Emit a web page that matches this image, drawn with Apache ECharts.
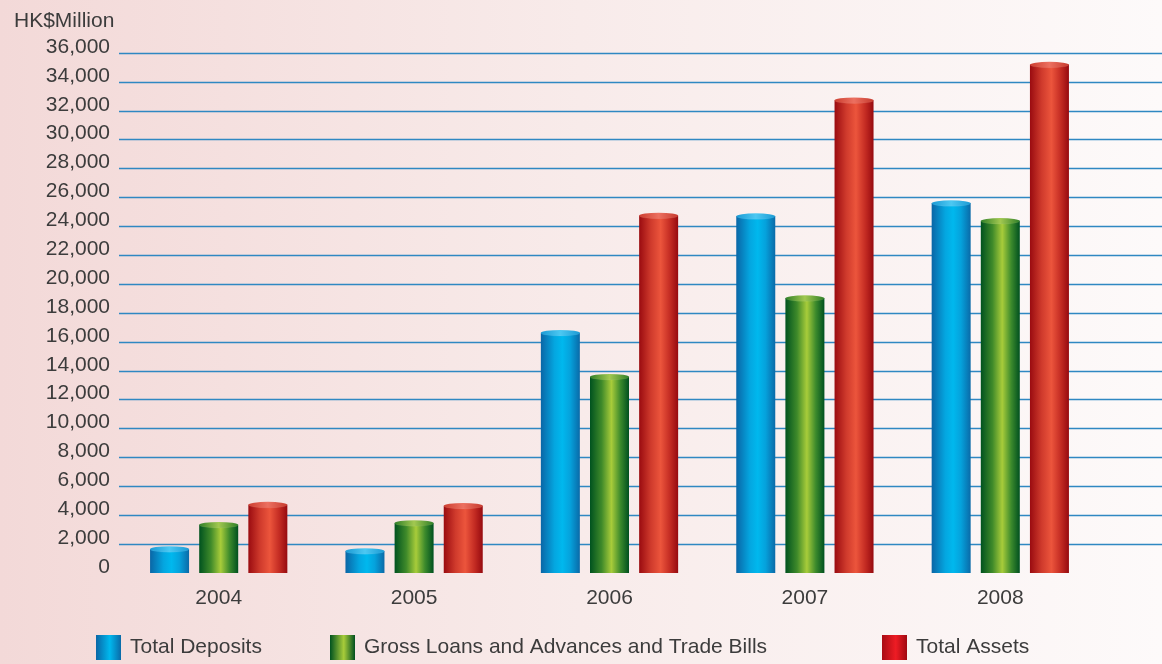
<!DOCTYPE html>
<html>
<head>
<meta charset="utf-8">
<script src="https://cdn.jsdelivr.net/npm/echarts@6/dist/echarts.min.js"></script>
<style>
  html, body { margin: 0; padding: 0; }
  #chart { width: 1162px; height: 664px; }
</style>
</head>
<body>
<div id="chart"></div>
<script>
// Yearly figures, HK$ million
const categories = ['2004', '2005', '2006', '2007', '2008'];
const totalDeposits = [1660, 1520, 16630, 24710, 25610];
const grossLoans = [3340, 3460, 13590, 19030, 24380];
const totalAssets = [4730, 4660, 24750, 32730, 35200];
const seriesNames = ['Total Deposits', 'Gross Loans and Advances and Trade Bills', 'Total Assets'];
const unitLabel = 'HK$Million';
const yMin = 0, yMax = 36000, yStep = 2000;

const FONT = '"Liberation Sans", Arial, sans-serif';
const TEXT = '#3c3c3c';

function hGrad(stops) {
  return {
    type: 'linear', x: 0, y: 0, x2: 1, y2: 0,
    colorStops: stops.map(([offset, color]) => ({ offset, color }))
  };
}

const bodyColors = [
  hGrad([[0, '#0a66a6'], [0.35, '#04a6e0'], [0.55, '#00b8ee'], [0.75, '#05a2dc'], [1, '#0a6aa8']]),
  hGrad([[0, '#00521f'], [0.3, '#3f8a2a'], [0.55, '#a8cc3a'], [0.78, '#3c8a2c'], [1, '#00501f']]),
  hGrad([[0, '#9a0b10'], [0.3, '#cf3a2c'], [0.55, '#ec553c'], [0.8, '#c22a22'], [1, '#960a0f']])
];
const capColors = [
  hGrad([[0, '#1b9ad4'], [0.5, '#4cc8f2'], [1, '#1b9ad4']]),
  hGrad([[0, '#2f7f28'], [0.5, '#a2c850'], [1, '#2f7f28']]),
  hGrad([[0, '#cc3e30'], [0.5, '#ec7060'], [1, '#c63a2e']])
];
const legendColors = [
  hGrad([[0, '#0a66a6'], [0.55, '#00b8ee'], [1, '#0a6aa8']]),
  hGrad([[0, '#00521f'], [0.55, '#a8cc3a'], [1, '#00501f']]),
  hGrad([[0, '#a80c14'], [0.55, '#ee1c24'], [1, '#a00a12']])
];
const values = [totalDeposits, grossLoans, totalAssets];

const BAR_W = 39;
const BAR_GAP = '26%';

const series = [];
values.forEach((data, i) => {
  series.push({
    name: seriesNames[i],
    type: 'bar',
    xAxisIndex: 1, yAxisIndex: 1,
    data: data,
    barWidth: BAR_W,
    barGap: BAR_GAP,
    itemStyle: { color: bodyColors[i] },
    z: 3
  });
});
values.forEach((data, i) => {
  series.push({
    name: 'cap' + i,
    type: 'pictorialBar',
    xAxisIndex: 1, yAxisIndex: 1,
    data: data,
    symbol: 'circle',
    symbolSize: [BAR_W, 6],
    symbolPosition: 'end',
    symbolOffset: [0, '-50%'],
    barWidth: BAR_W,
    barGap: BAR_GAP,
    itemStyle: { color: capColors[i], borderColor: 'rgba(255,255,255,0.95)', borderWidth: 1 },
    z: 5,
    silent: true
  });
});

const legendLefts = [96, 330, 882];
const legends = seriesNames.map((name, i) => ({
  data: [{ name: name, itemStyle: { color: legendColors[i] } }],
  left: legendLefts[i],
  top: 635,
  padding: 0,
  icon: 'rect',
  itemWidth: 25,
  itemHeight: 25,
  selectedMode: false,
  textStyle: { fontFamily: FONT, fontSize: 21, color: TEXT, padding: [0, 0, 0, 4] }
}));

const chart = echarts.init(document.getElementById('chart'), null, { renderer: 'canvas' });
chart.setOption({
  animation: false,
  backgroundColor: hGrad([[0, '#f3d9d8'], [0.5, '#f8ebea'], [1, '#fdfafa']]),
  title: {
    text: unitLabel,
    left: 9, top: 6,
    textStyle: { fontFamily: FONT, fontSize: 21, fontWeight: 'normal', color: TEXT }
  },
  legend: legends,
  grid: [
    { left: 119, right: 0, top: 53, bottom: 91 },
    { left: 121, right: 64, top: 53, bottom: 91 }
  ],
  xAxis: [
    { gridIndex: 0, type: 'value', show: false, min: 0, max: 1 },
    {
      gridIndex: 1, type: 'category', data: categories,
      axisLine: { show: false }, axisTick: { show: false },
      axisLabel: { fontFamily: FONT, fontSize: 21, color: TEXT, margin: 15 }
    }
  ],
  yAxis: [
    {
      gridIndex: 0, type: 'value', min: yMin, max: yMax, interval: yStep,
      axisLine: { show: false }, axisTick: { show: false },
      axisLabel: {
        fontFamily: FONT, fontSize: 21, color: TEXT, margin: 9,
        verticalAlign: 'bottom', lineHeight: 12,
        formatter: v => v.toLocaleString('en-US')
      },
      splitLine: { show: true, showMinLine: false, lineStyle: { color: '#2f88c2', width: 1.3 } }
    },
    {
      gridIndex: 1, type: 'value', min: yMin, max: yMax, interval: yStep,
      show: false, splitLine: { show: false }
    }
  ],
  series: series
});
</script>
</body>
</html>
